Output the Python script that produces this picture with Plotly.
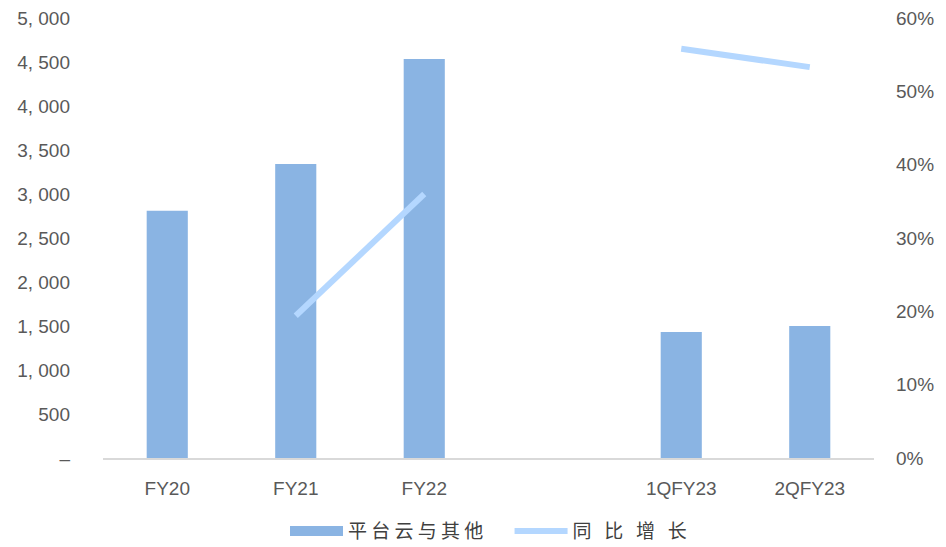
import plotly.graph_objects as go

categories = ["FY20", "FY21", "FY22", " ", "1QFY23", "2QFY23"]
revenue = [2810, 3340, 4535, None, 1432, 1500]
growth = [None, 19.4, 36.0, None, 55.8, 53.3]

left_ticks = [0, 500, 1000, 1500, 2000, 2500, 3000, 3500, 4000, 4500, 5000]
left_text = ["–", "500", "1, 000", "1, 500", "2, 000", "2, 500", "3, 000", "3, 500", "4, 000", "4, 500", "5, 000"]
right_ticks = [0, 10, 20, 30, 40, 50, 60]
right_text = ["0%", "10%", "20%", "30%", "40%", "50%", "60%"]

tick_font = "Liberation Sans, sans-serif"
BAR_COLOR = "#8AB4E3"
LINE_COLOR = "#B4D7FF"
NB = "\u00a0"

fig = go.Figure()
fig.add_trace(go.Bar(
    x=categories, y=revenue, name="平台云与其他",
    marker=dict(color=BAR_COLOR, line=dict(width=0)),
    width=0.32, yaxis="y", showlegend=False
))
fig.add_trace(go.Scatter(
    x=categories, y=growth, name="同比增长", mode="lines",
    line=dict(color=LINE_COLOR, width=6), connectgaps=False, yaxis="y2",
    showlegend=False
))
# legend entries
fig.add_trace(go.Scatter(
    x=[None], y=[None], name=NB.join("平台云与其他") + NB * 5, mode="lines",
    line=dict(color=BAR_COLOR, width=11), yaxis="y"
))
fig.add_trace(go.Scatter(
    x=[None], y=[None], name=(NB * 3).join("同比增长"), mode="lines",
    line=dict(color=LINE_COLOR, width=6), yaxis="y2"
))

fig.update_layout(
    width=946, height=547,
    margin=dict(l=103, r=72, t=18, b=89),
    plot_bgcolor="white", paper_bgcolor="white",
    font=dict(family=tick_font, size=19, color="#595959"),
    showlegend=True,
    legend=dict(orientation="h", x=0.5, xanchor="center",
                yref="container", y=0.029, yanchor="middle",
                font=dict(size=19, family="Noto Sans CJK SC", color="#404040"),
                itemwidth=53, tracegroupgap=0),
    bargap=0.68,
    xaxis=dict(
        type="category", categoryorder="array", categoryarray=categories,
        showline=True, linecolor="#D9D9D9", linewidth=1.5,
        showgrid=False, ticks="", tickfont=dict(size=19, color="#595959"),
        ticklabelstandoff=12, automargin=False
    ),
    yaxis=dict(
        range=[0, 5000], tickvals=left_ticks, ticktext=left_text,
        showgrid=False, zeroline=False, showline=False, ticks="",
        ticklabelstandoff=32, automargin=False
    ),
    yaxis2=dict(
        range=[0, 60], tickvals=right_ticks, ticktext=right_text,
        overlaying="y", side="right", showgrid=False, zeroline=False,
        showline=False, ticks="", ticklabelstandoff=21, automargin=False
    ),
)

fig.write_html(
    "out.html",
    config={"displayModeBar": False},
    post_script="document.body.style.margin='0';document.body.style.overflow='hidden';",
)
